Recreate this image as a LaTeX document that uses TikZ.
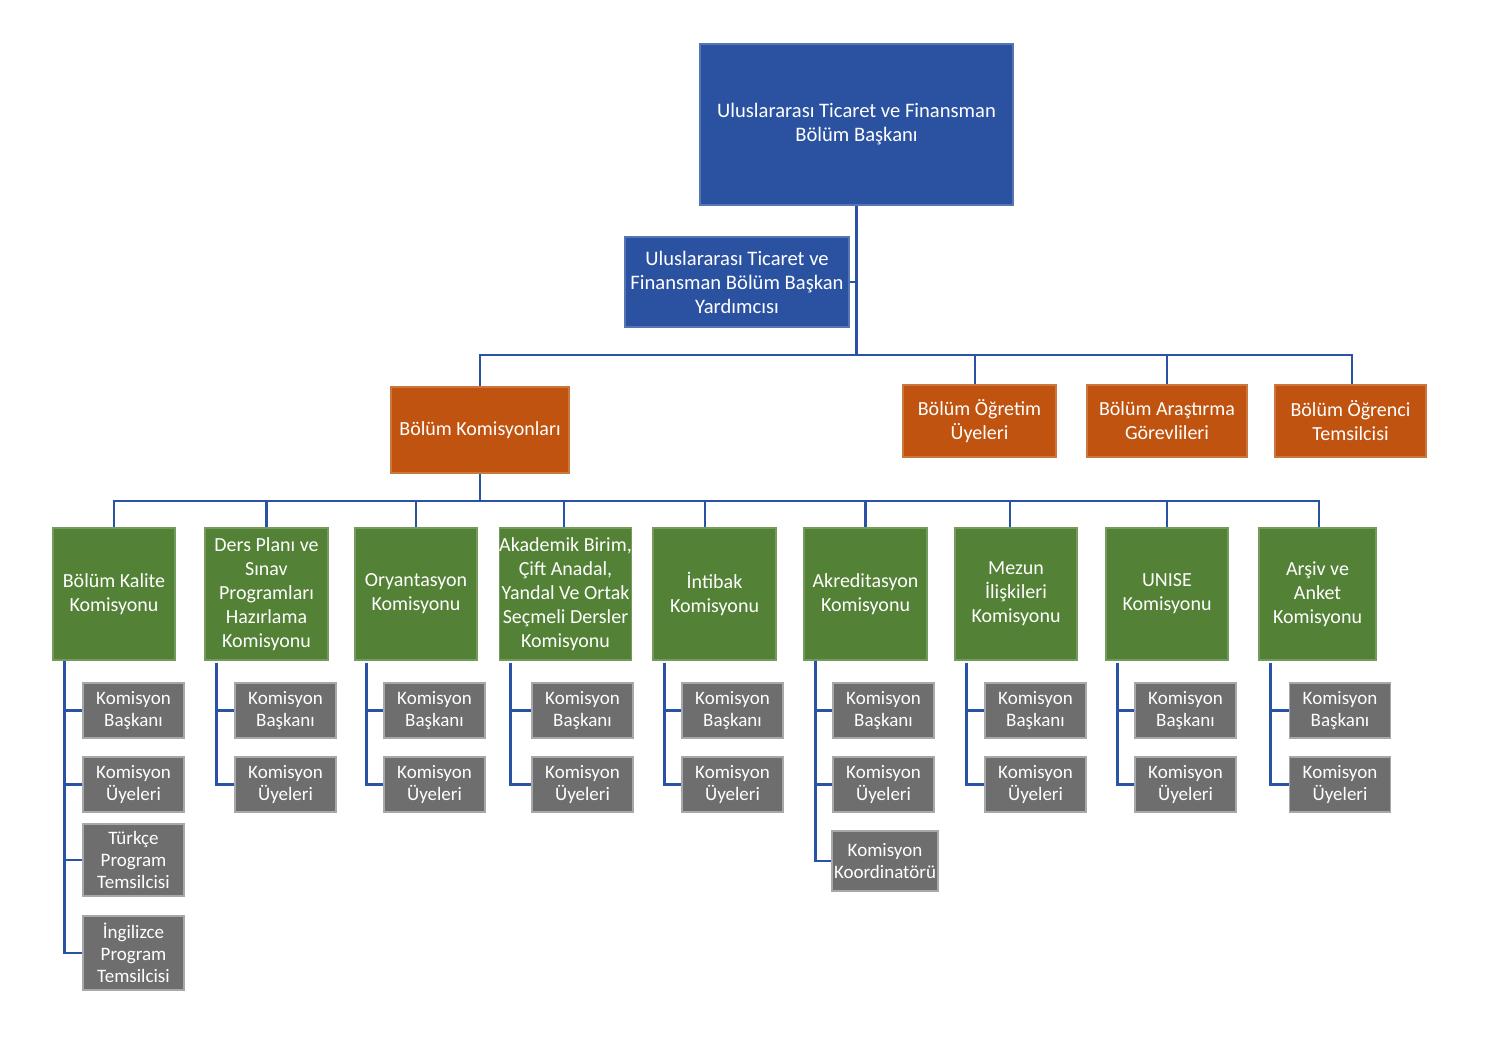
\documentclass[tikz,border=0pt]{standalone}
\usepackage{fontspec}
\setmainfont{Carlito}
\usepackage{xcolor}
\usepackage{tikz}
\definecolor{chief}{HTML}{2B52A0}
\definecolor{unit}{HTML}{C0530F}
\definecolor{board}{HTML}{538135}
\definecolor{slate}{HTML}{6E6E6E}
\definecolor{wire}{HTML}{2A52A5}

\begin{document}
\begin{tikzpicture}[x=0.5pt, y=-0.5pt,
  box/.style={rectangle, inner sep=0pt, align=center, text=white, line width=0.6pt,
              font=\fontsize{10}{12}\selectfont},
  headbox/.style={box, fill=chief, draw=chief!80!white, font=\fontsize{10.3}{12}\selectfont},
  unitbox/.style={box, fill=unit, draw=unit!80!white, minimum height=36pt},
  kombox/.style={box, fill=board, draw=board!80!white, minimum height=66pt},
  memberbox/.style={box, fill=slate, draw=slate!60!white, minimum width=50.5pt,
              minimum height=27.5pt, font=\fontsize{9.5}{11}\selectfont},
  link/.style={wire, line width=1.25pt}]
\fill[white] (0,0) rectangle (1491,1055);
\useasboundingbox (0,0) rectangle (1491,1055);

% ---------- head of department and deputy
\node[headbox, minimum width=156.5pt, minimum height=80.5pt] (head) at (856.5,124.5)
  {Uluslararası Ticaret ve Finansman\\Bölüm Başkanı};
\node[headbox, minimum width=112pt, minimum height=45pt] (deputy) at (737,282)
  {Uluslararası Ticaret ve\\Finansman Bölüm Başkan\\Yardımcısı};
\coordinate (bus1) at (856.5,355);
\draw[link] (head.south) -- (bus1);
\draw[link] (deputy.east) -- (deputy.east -| bus1);

% ---------- row of units
\node[unitbox, minimum width=89pt, minimum height=43pt] (kom) at (480,430) {Bölüm Komisyonları};
\node[unitbox, minimum width=76.5pt] (staff) at (979.5,421) {Bölüm Öğretim\\Üyeleri};
\node[unitbox, minimum width=80pt] (assist) at (1167,421) {Bölüm Araştırma\\Görevlileri};
\node[unitbox, minimum width=75.5pt] (student) at (1350.5,421) {Bölüm Öğrenci\\Temsilcisi};
\foreach \u/\dx in {kom/0pt, staff/-2.25pt, assist/0pt, student/0.75pt}
  \draw[link] ([xshift=\dx]\u.north) |- (bus1);

% ---------- commissions
\coordinate (bus2) at (480,501);
\draw[link] (kom.south) -- (bus2);
\foreach \n/\cx/\w/\dx/\txt in {
    1/114/61/0pt/{Bölüm Kalite\\Komisyonu},
    2/266.5/61.5/0pt/{Ders Planı ve\\Sınav\\Programları\\Hazırlama\\Komisyonu},
    3/416/61/0pt/{Oryantasyon\\Komisyonu},
    4/565.5/64.5/-0.75pt/{Akademik Birim,\\Çift Anadal,\\Yandal Ve Ortak\\Seçmeli Dersler\\Komisyonu},
    5/714.5/61.5/-4.75pt/{İntibak\\Komisyonu},
    6/865.5/61.5/0pt/{Akreditasyon\\Komisyonu},
    7/1016/61/-3pt/{Mezun\\İlişkileri\\Komisyonu},
    8/1167/61/0pt/{UNISE\\Komisyonu},
    9/1317.5/58.5/0.75pt/{Arşiv ve\\Anket\\Komisyonu}}{
  \node[kombox, minimum width=\w pt] (g\n) at (\cx,594) {\txt};
  \draw[link] ([xshift=\dx]g\n.north) |- (bus2);}

% ---------- members under each commission
\foreach \n/\bx in {1/133.5, 2/285.5, 3/434.5, 4/582.5, 5/732.5,
                    6/883.5, 7/1035.5, 8/1185.5, 9/1340}{
  \node[memberbox] (b\n) at (\bx,710.5) {Komisyon\\Başkanı};
  \node[memberbox] (u\n) at (\bx,784.5) {Komisyon\\Üyeleri};
  \draw[link] ([xshift=6pt,yshift=-1pt]g\n.south west) |- (b\n.west);
  \draw[link] ([xshift=6pt,yshift=-1pt]g\n.south west) |- (u\n.west);}

\node[memberbox, minimum height=36pt] (tr1) at (133.5,860) {Türkçe\\Program\\Temsilcisi};
\node[memberbox, minimum height=37pt] (en1) at (133.5,953) {İngilizce\\Program\\Temsilcisi};
\node[memberbox, minimum width=53pt, minimum height=30pt] (co6) at (885,861) {Komisyon\\Koordinatörü};
\draw[link] ([xshift=6pt]g1.south west) |- (tr1.west);
\draw[link] ([xshift=6pt]g1.south west) |- (en1.west);
\draw[link] ([xshift=6pt]g6.south west) |- (co6.west);
\end{tikzpicture}
\end{document}
